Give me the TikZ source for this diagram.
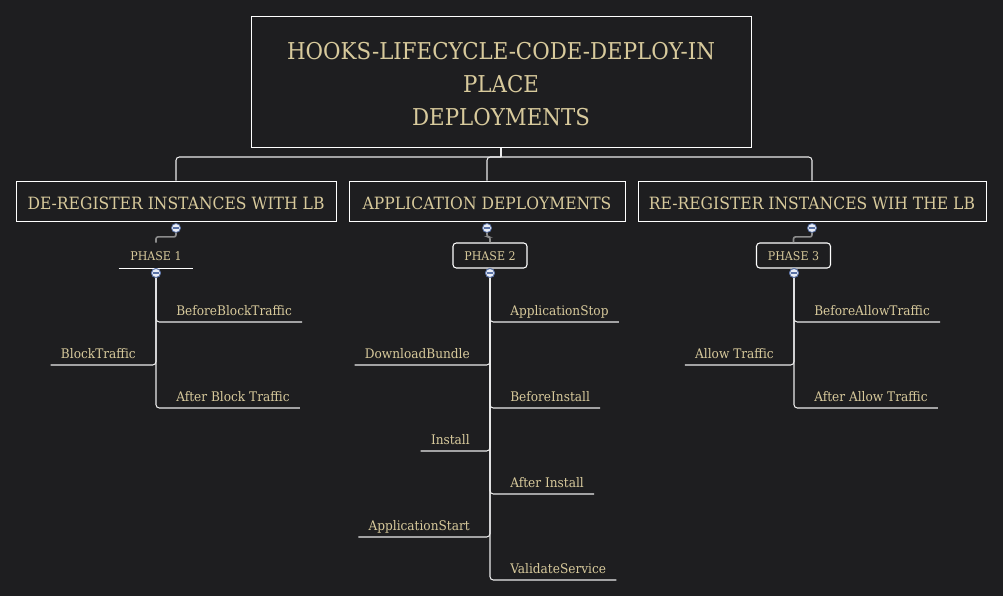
\documentclass[tikz,border=0pt]{standalone}
\usepackage{fontspec}
\setmainfont{DejaVu Serif}[FakeStretch=0.92]
\usetikzlibrary{positioning}
\definecolor{map-bg}{HTML}{1E1E20}
\definecolor{map-text}{HTML}{D8CA9C}
\definecolor{map-knob}{HTML}{5A72A6}
\definecolor{map-knobfill}{HTML}{E9EDF5}
\colorlet{map-stem}{white!55!black}
\tikzset{
  topic/.style={draw=white, line width=0.75pt, text=map-text, align=center, inner sep=0pt},
  phase/.style={text=map-text, font=\fontsize{9}{10}\selectfont, minimum width=55.5pt, minimum height=18.75pt, inner sep=0pt, text height=8.2pt, text depth=0pt},
  hook/.style={text=map-text, font=\fontsize{9.9}{11}\selectfont, inner xsep=7.5pt, inner ysep=2.5pt, text height=7pt, text depth=2.25pt},
  branch/.style={draw=white!92!black, line width=0.8pt, rounded corners=2.5pt},
  stem/.style={draw=map-stem, line width=1.2pt, rounded corners=1.5pt},
}
% collapse knob: name, position
\newcommand{\tikzknob}[2]{%
\node[circle, draw=map-knob, fill=map-knobfill, line width=0.6pt, minimum size=6.75pt, inner sep=0pt] (#1) at (#2) {};
\draw[map-knob, line width=0.8pt] ([xshift=1.4pt]#1.west) -- ([xshift=-1.4pt]#1.east);
}
% hook to the right of the trunk: knob, name, trunk x, y, text
\newcommand{\tikzhookR}[5]{%
\node[hook, anchor=south west] (#2) at (#3+10,#4) {#5};
\draw[branch] (#1.south) |- (#2.south east);
}
% hook to the left of the trunk
\newcommand{\tikzhookL}[5]{%
\node[hook, anchor=south east] (#2) at (#3-10,#4) {#5};
\draw[branch] (#1.south) |- (#2.south west);
}

\begin{document}
\begin{tikzpicture}[x=0.75pt, y=-0.75pt]
\fill[map-bg] (0,0) rectangle (1003,596);

% root and top level
\node[topic, minimum width=375pt, minimum height=98.25pt] (root) at (501,81.5) {};
\node[text=map-text, align=center, font=\fontsize{17.4}{24.75}\selectfont] (roottext) at (501,84.5)
  {HOOKS-LIFECYCLE-CODE-DEPLOY-IN\\PLACE\\DEPLOYMENTS};
\tikzset{topic/.append style={minimum height=30pt, font=\fontsize{12.7}{15}\selectfont, text height=12.4pt, text depth=0pt}}
\node[topic, minimum width=240pt] (dereg) at (176,201) {DE-REGISTER INSTANCES WITH LB};
\node[topic, minimum width=207pt] (appdep) at (487,201) {APPLICATION DEPLOYMENTS};
\node[topic, minimum width=261pt] (rereg) at (812,201) {RE-REGISTER INSTANCES WIH THE LB};

\coordinate (hub) at (501,157);
\draw[branch] (root.south) -- (hub);
\foreach \t in {dereg,appdep,rereg}
  \draw[branch] (hub) -| (\t.north);

% phases
\tikzknob{k1}{176,228}
\tikzknob{k2}{487,228}
\tikzknob{k3}{812,228}
\node[phase] (ph1) at (156,255.5) {PHASE 1};
\node[phase, draw=white, line width=0.8pt, rounded corners=2.5pt] (ph2) at (490,255.5) {PHASE 2};
\node[phase, draw=white, line width=0.8pt, rounded corners=2.5pt] (ph3) at (793.5,255.5) {PHASE 3};
\draw[white, line width=0.8pt] (ph1.south west) -- (ph1.south east);
\draw[stem] (k1.south) -- ++(0,4) -| (ph1.north);
\draw[stem] (k2.south) -- ++(0,4) -| (ph2.north);
\draw[stem] (k3.south) -- ++(0,4) -| (ph3.north);

% phase 1 hooks
\tikzknob{q1}{156,273}
\tikzhookR{q1}{bbt}{156}{322}{BeforeBlockTraffic}
\tikzhookL{q1}{blk}{156}{365}{BlockTraffic}
\tikzhookR{q1}{abt}{156}{408}{After Block Traffic}

% phase 2 hooks
\tikzknob{q2}{490,273}
\tikzhookR{q2}{astop}{490}{322}{ApplicationStop}
\tikzhookL{q2}{dlb}{490}{365}{DownloadBundle}
\tikzhookR{q2}{binst}{490}{408}{BeforeInstall}
\tikzhookL{q2}{inst}{490}{451}{Install}
\tikzhookR{q2}{ainst}{490}{494}{After Install}
\tikzhookL{q2}{astart}{490}{537}{ApplicationStart}
\tikzhookR{q2}{vsvc}{490}{580}{ValidateService}

% phase 3 hooks
\tikzknob{q3}{794,273}
\tikzhookR{q3}{bat}{794}{322}{BeforeAllowTraffic}
\tikzhookL{q3}{alw}{794}{365}{Allow Traffic}
\tikzhookR{q3}{aat}{794}{408}{After Allow Traffic}

% knobs back on top of the trunks
\tikzknob{q1}{156,273}
\tikzknob{q2}{490,273}
\tikzknob{q3}{794,273}
\end{tikzpicture}
\end{document}
